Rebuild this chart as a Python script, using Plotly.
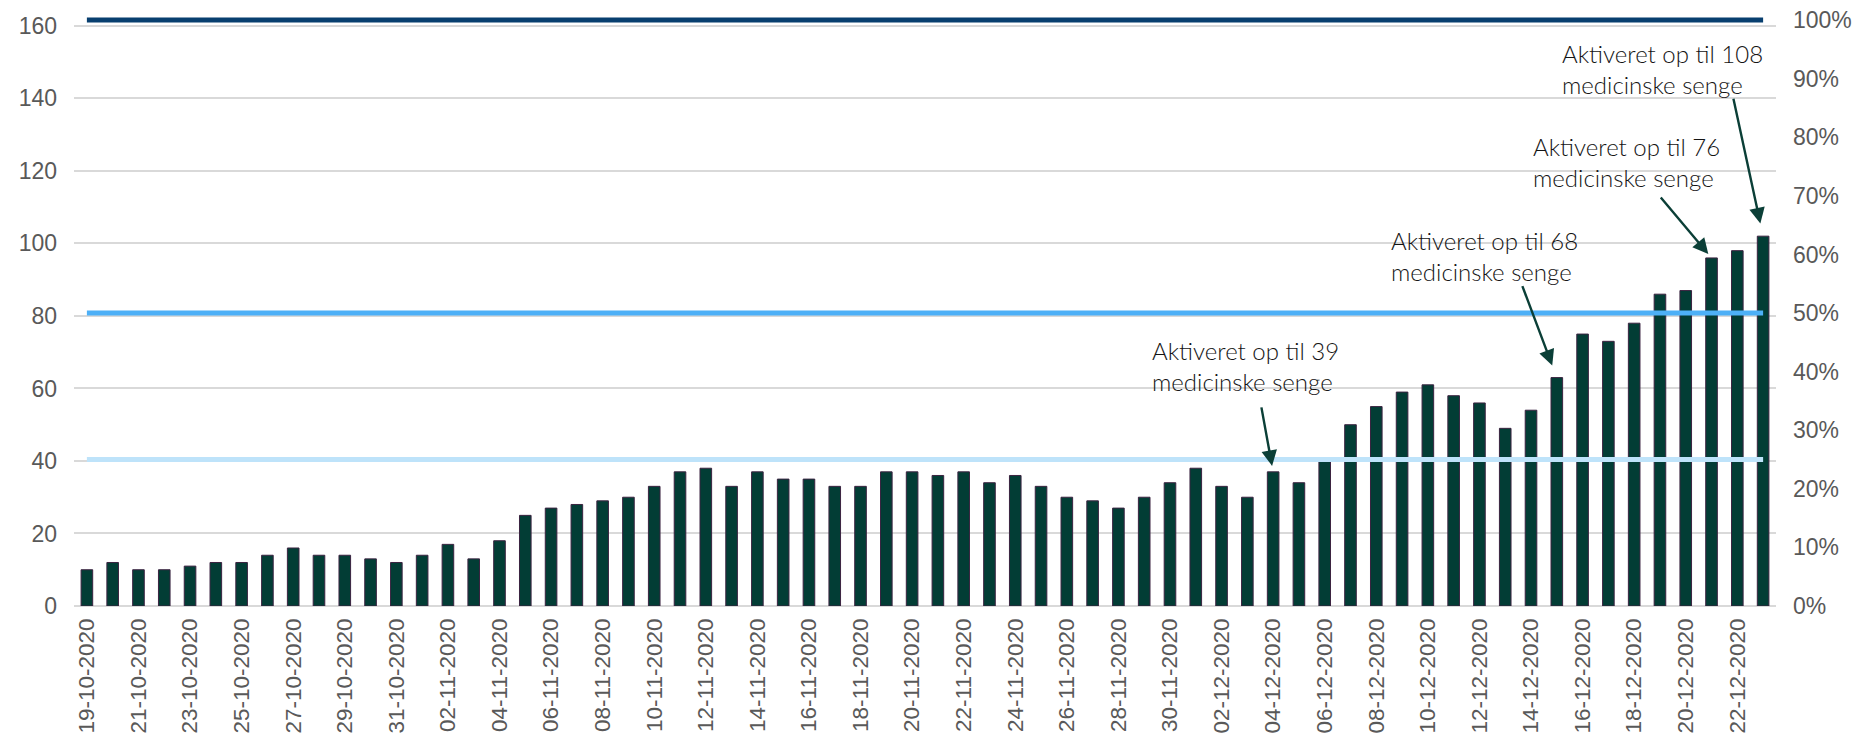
import plotly.graph_objects as go
import pandas as pd

# ---- data ----
dates = [d.strftime("%d-%m-%Y") for d in pd.date_range("2020-10-19", "2020-12-23", freq="D")]
patients = [10, 12, 10, 10, 11, 12, 12, 14, 16, 14, 14, 13, 12,          # 19-31 Oct
            14, 17, 13, 18, 25, 27, 28, 29, 30, 33, 37, 38, 33, 37, 35,  # 1-15 Nov
            35, 33, 33, 37, 37, 36, 37, 34, 36, 33, 30, 29, 27, 30, 34,  # 16-30 Nov
            38, 33, 30, 37, 34, 40, 50, 55, 59, 61, 58, 56, 49, 54, 63,  # 1-15 Dec
            75, 73, 78, 86, 87, 96, 98, 102]                              # 16-23 Dec
capacity_beds = 161.6
capacity_levels = [1.0, 0.5, 0.25]
capacity_colors = ["#083F6F", "#4DB0F7", "#BEE3FA"]
tick_dates = dates[::2]
y_ticks = [0, 20, 40, 60, 80, 100, 120, 140, 160]
pct_ticks = [i / 10 for i in range(11)]
pct_labels = [f"{i*10}%" for i in range(11)]

annot_dates = ["04-12-2020", "15-12-2020", "21-12-2020", "23-12-2020"]
annot_texts = ["Aktiveret op til 39<br>medicinske senge",
               "Aktiveret op til 68<br>medicinske senge",
               "Aktiveret op til 76<br>medicinske senge",
               "Aktiveret op til 108<br>medicinske senge"]
# pixel offsets (styling): arrow tail, arrow standoff, text shift
arrow_ax = [-12, -35, -52, -30]
arrow_ay = [-66, -93, -62, -139]
arrow_standoff = [6, 13, 5, 13]
text_xshift = [-123, -168, -181, -203]
text_yshift = [106, 122, 96, 167]

y_max = 163
fig = go.Figure()
fig.add_trace(go.Bar(x=dates, y=patients, marker=dict(color="#023D35", line=dict(color="#3B2340", width=1)),
                     width=0.45, showlegend=False, hoverinfo="x+y"))
for lvl, col in zip(capacity_levels, capacity_colors):
    fig.add_trace(go.Scatter(x=dates, y=[lvl] * len(dates), yaxis="y2", mode="lines",
                             line=dict(color=col, width=5), showlegend=False, hoverinfo="skip"))

tickfont = dict(family="Liberation Sans, Arial, sans-serif", size=23, color="#595959")
# page body has an 8px default margin, so the figure is sized 8px smaller
fig.update_layout(
    width=1852, height=736,
    margin=dict(l=66, r=84, t=7, b=138),
    plot_bgcolor="white", paper_bgcolor="white",
    bargap=0.55,
    xaxis=dict(type="category", categoryorder="array", categoryarray=dates,
               tickmode="array", tickvals=tick_dates, ticktext=tick_dates,
               tickangle=-90, tickfont=dict(family="Liberation Sans, Arial, sans-serif", size=22.5, color="#595959"),
               showgrid=False, showline=False, zeroline=False, ticks="", automargin=False,
               ticklabelstandoff=7, range=[-0.5, len(dates) - 0.5]),
    yaxis=dict(range=[0, y_max], tickvals=y_ticks, tickfont=tickfont,
               showgrid=True, gridcolor="#D9D9D9", gridwidth=2,
               zeroline=True, zerolinecolor="#D9D9D9", zerolinewidth=2,
               showline=False, ticks="", ticklabelstandoff=16, automargin=False,
               ticklabeloverflow="allow"),
    yaxis2=dict(overlaying="y", side="right", range=[0, y_max / capacity_beds],
                tickvals=pct_ticks, ticktext=pct_labels, tickfont=tickfont, automargin=False,
                showgrid=False, zeroline=False, showline=False, ticks="", ticklabelstandoff=16,
                ticklabeloverflow="allow"),
)

annotations = []
for d, txt, ax, ay, so, xs, ys in zip(annot_dates, annot_texts, arrow_ax, arrow_ay,
                                       arrow_standoff, text_xshift, text_yshift):
    v = patients[dates.index(d)]
    annotations.append(dict(x=d, y=v, xref="x", yref="y", text="", showarrow=True,
                            ax=ax, ay=ay, arrowhead=2, arrowsize=1.3, arrowwidth=2.4,
                            arrowcolor="#0B3F37", standoff=so))
    annotations.append(dict(x=d, y=v, xref="x", yref="y", text=txt, showarrow=False,
                            xanchor="left", yanchor="middle", align="left",
                            xshift=xs, yshift=ys,
                            font=dict(family="Lato, Raleway, sans-serif", size=24, color="#141414", weight=300)))
fig.update_layout(annotations=annotations)

fig.write_html("out.html")
